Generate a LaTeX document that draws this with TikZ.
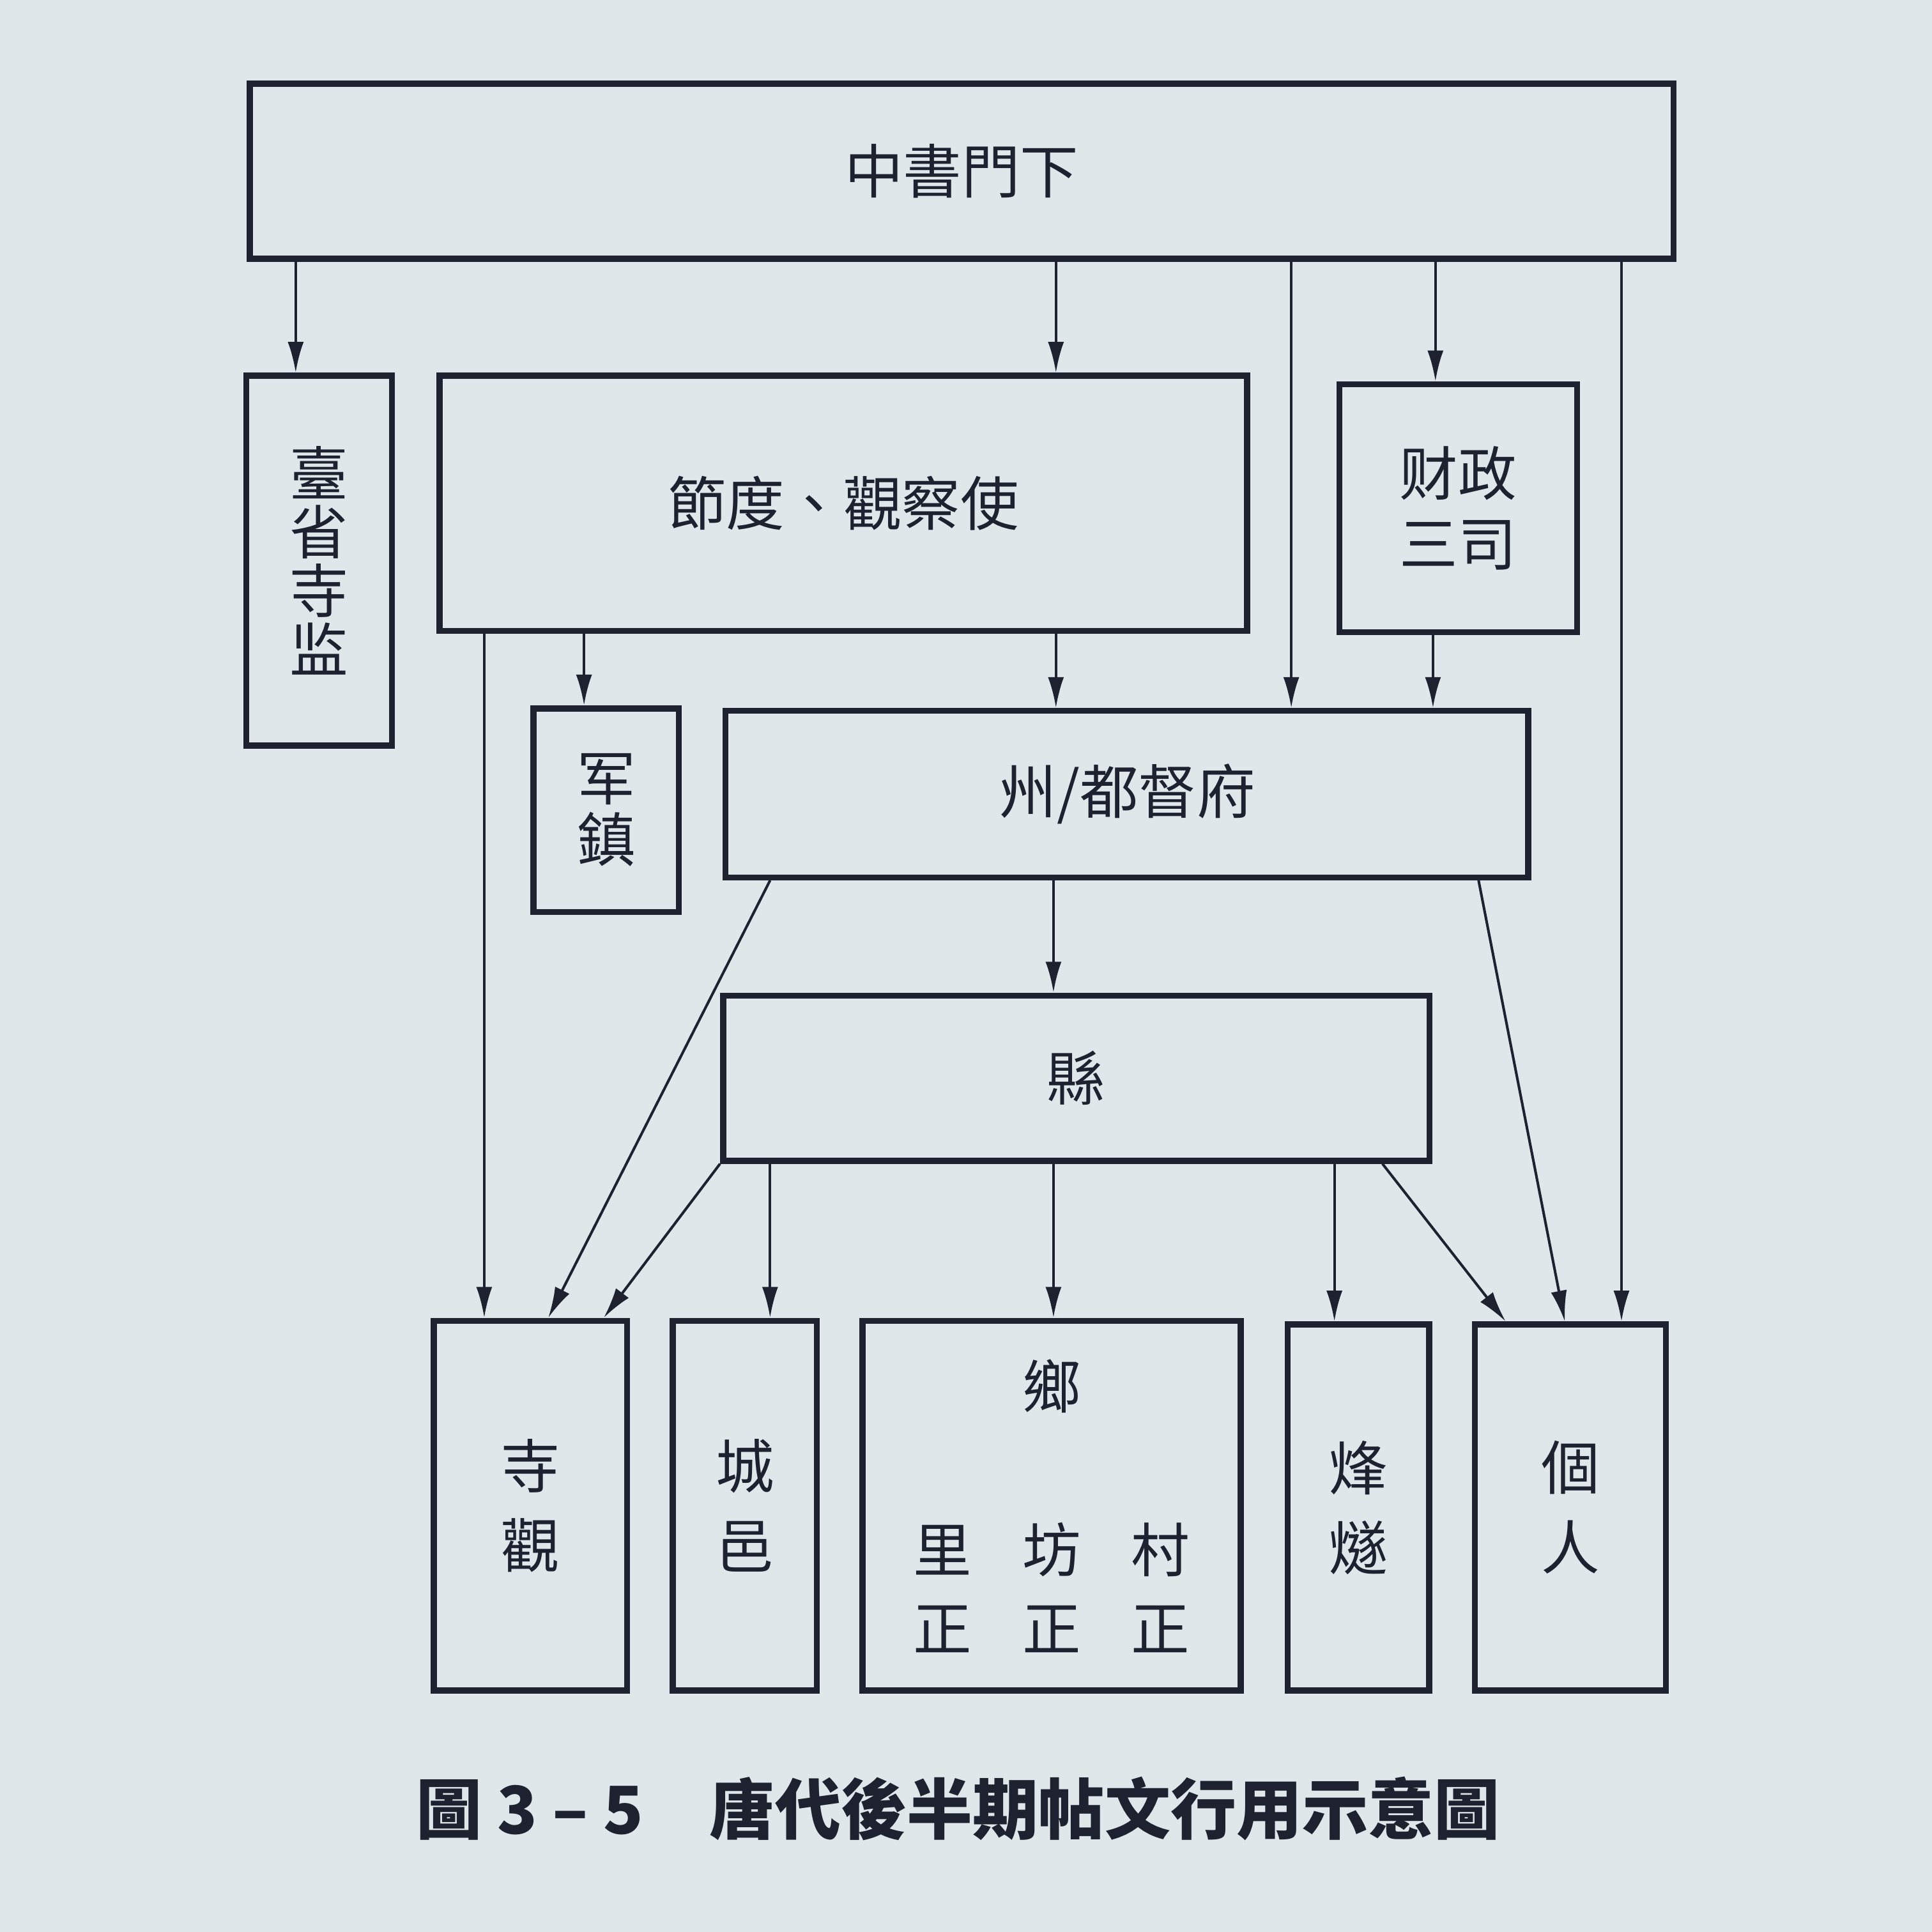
\documentclass[tikz,border=0pt]{standalone}
\usepackage{fontspec}
\newfontfamily\cjk{Noto Sans CJK TC}
\usetikzlibrary{arrows.meta,positioning}
\definecolor{ink}{RGB}{30,34,48}
\definecolor{paper}{RGB}{223,231,234}
\tikzset{
    %Define standard arrow tip
    >={Latex[length=2.5mm,width=1.3mm]},
    %Define style for boxes
    office/.style={
           rectangle,
           draw=ink, line width=1.4pt,
           inner sep=0pt,
           font=\cjk\fontsize{13.5}{13}\selectfont,
           text=ink,
           align=center,
           },
    % Define arrow style
    pil/.style={
           ->,
           draw=ink,
           line width=0.6pt,},
}

\begin{document}
\begin{tikzpicture}[x=0.01cm,y=-0.01cm]
\fill[paper] (0,0) rectangle (1568,1568);
 %nodes
\node[office, minimum width=11.55cm, minimum height=1.42cm] (zs) at (780.5,139) {中書門下};
\node[office, minimum width=1.18cm, minimum height=3cm] (tai) at (259,455) {臺\\[0.02cm]省\\[0.02cm]寺\\[0.02cm]监};
\node[office, minimum width=6.55cm, minimum height=2.07cm] (jd) at (684.5,408.5) {節度、觀察使};
\node[office, minimum width=1.93cm, minimum height=2.01cm] (cz) at (1183.5,412.5) {财政\\[0.11cm]三司};
\node[office, minimum width=1.18cm, minimum height=1.65cm] (jz) at (492,657.5) {军\\[0.04cm]鎮};
\node[office, minimum width=6.51cm, minimum height=1.35cm] (zhou) at (914.5,644.5) {州/都督府};
\node[office, minimum width=5.73cm, minimum height=1.34cm] (xian) at (873.5,875) {縣};
\node[office, minimum width=1.57cm, minimum height=3cm] (sg) at (430.5,1222) {寺\\[0.19cm]觀};
\node[office, minimum width=1.17cm, minimum height=3cm] (cy) at (604.5,1222) {城\\[0.19cm]邑};
\node[office, minimum width=3.07cm, minimum height=3cm] (xiang) at (853.5,1222)
    {鄉\\[0.87cm]里\hspace{0.41cm}坊\hspace{0.41cm}村\\[0.18cm]正\hspace{0.41cm}正\hspace{0.41cm}正};
\node[office, minimum width=1.15cm, minimum height=2.97cm] (fs) at (1102.5,1223.5) {烽\\[0.19cm]燧};
\node[office, minimum width=1.55cm, minimum height=2.97cm] (gr) at (1274.5,1223.5) {個\\[0.19cm]人};
\node[font=\cjk\bfseries\fontsize{15.2}{15.2}\selectfont, text=ink] (cap) at (777.5,1468)
    {圖 3 – 5　唐代後半期帖文行用示意圖};
 %arrows
\foreach \x/\a/\b in {240/zs/tai, 857/zs/jd, 1048/zs/zhou, 1165/zs/cz, 1316/zs/gr,
    393/jd/sg, 474/jd/jz, 857/jd/zhou, 1163/cz/zhou, 855/zhou/xian,
    625/xian/cy, 855/xian/xiang, 1083/xian/fs}
  \draw[pil] (\a.south -| \x,0) -- (\b.north -| \x,0);
\draw[pil] (zhou.south -| 625,0) -- (sg.north -| 445,0);
\draw[pil] (zhou.south -| 1200,0) -- (gr.north -| 1270,0);
\draw[pil] (xian.south west) -- (sg.north -| 490,0);
\draw[pil] (xian.south -| 1122,0) -- (gr.north -| 1222,0);
\end{tikzpicture}
\end{document}
